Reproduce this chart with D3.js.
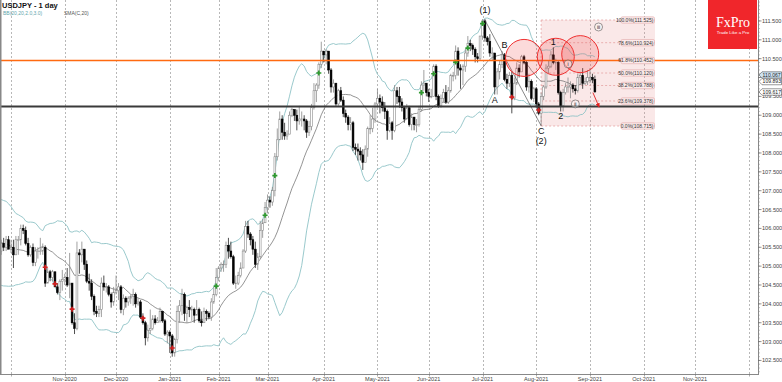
<!DOCTYPE html>
<html>
<head>
<meta charset="utf-8">
<script src="https://cdnjs.cloudflare.com/ajax/libs/d3/7.8.5/d3.min.js"></script>
<style>
body { margin: 0; background: #fff; }
svg { display: block; font-family: "Liberation Sans", Arial, sans-serif; }
</style>
</head>
<body>
<svg id="chart"></svg>
<script>
/* USDJPY daily, 27 Aug 2020 .. 3 Sep 2021 (open = previous close) */
var firstOpen = 106.25;
var closes = [
  106.55,105.35,105.90,
  // Sep 2020
  105.95,106.15,106.20,106.25,106.25,105.95,106.20,106.15,106.15,105.70,105.45,104.95,104.75,104.55,104.65,104.95,105.40,105.40,105.60,105.50,105.70,105.45,
  // Oct 2020
  105.50,105.30,105.70,105.70,106.00,105.95,105.60,105.30,105.50,105.10,105.40,105.40,105.40,105.50,104.55,104.85,104.70,104.85,104.45,104.30,104.60,104.65,
  // Nov 2020
  104.70,104.50,104.55,103.50,103.35,105.35,105.30,105.45,105.05,104.60,104.55,104.20,103.80,103.75,103.85,104.55,104.45,104.45,104.25,104.05,104.30,
  // Dec 2020
  104.35,104.45,103.85,104.15,104.05,104.15,104.20,104.25,104.00,104.05,103.65,103.50,103.10,103.30,103.35,103.60,103.50,103.55,103.80,103.55,103.20,103.25,
  // Jan 2021
  103.15,102.70,103.05,103.80,103.95,104.25,103.75,103.90,103.85,103.85,103.70,103.85,103.55,103.50,103.80,103.75,103.65,104.05,104.25,104.70,
  // Feb 2021
  104.95,105.05,105.05,105.55,105.40,105.25,104.55,104.55,104.75,104.95,105.40,106.05,105.85,105.70,105.45,105.05,105.25,105.95,106.15,106.55,
  // Mar 2021
  106.75,106.70,107.00,107.90,108.35,108.90,108.55,108.45,108.50,109.00,109.15,109.00,108.85,108.90,108.90,108.85,108.55,108.70,109.20,109.65,109.80,110.35,110.70,
  // Apr 2021
  110.60,110.70,110.20,109.75,109.85,109.30,109.65,109.40,109.05,108.95,108.75,108.80,108.15,108.10,108.05,107.95,107.75,108.10,108.65,108.65,108.90,109.30,
  // May 2021
  109.45,109.35,109.20,109.10,108.60,108.80,108.60,109.65,109.50,109.35,109.20,108.90,109.20,108.75,108.95,108.75,108.75,109.15,109.80,109.85,109.60,
  // Jun 2021
  109.50,109.50,110.30,109.50,109.25,109.45,109.60,109.35,109.65,110.05,110.05,110.70,110.25,110.20,110.30,110.65,110.90,110.85,110.75,110.55,110.50,111.10,
  // Jul 2021
  111.50,111.05,110.95,110.65,110.65,109.75,110.15,110.35,110.60,109.95,109.85,110.05,109.45,109.85,110.25,110.15,110.55,110.40,109.75,109.90,109.45,109.70,
  // Aug 2021
  109.30,109.05,109.50,109.75,110.25,110.30,110.60,110.40,110.40,109.60,109.25,109.60,109.75,109.75,109.80,109.70,109.65,110.00,110.05,109.85,109.90,110.00,
  // Sep 2021
  110.00,109.95,109.62
];
var highs = [
  106.95,106.55,106.00,
  106.05,106.25,106.55,106.50,106.35,106.35,106.25,106.30,106.20,106.20,105.75,105.45,104.95,104.90,104.75,105.10,105.50,105.50,105.70,105.75,105.80,105.80,
  105.70,105.70,105.80,105.80,106.10,106.10,106.05,105.75,105.55,105.60,105.50,105.50,105.75,105.60,105.55,104.95,104.90,104.90,104.85,104.55,104.65,104.90,
  104.80,104.95,105.35,104.55,103.75,105.65,105.45,105.65,105.45,105.15,104.80,104.65,104.25,103.95,103.95,104.70,104.75,104.55,104.50,104.30,104.45,
  104.75,104.55,104.50,104.25,104.20,104.20,104.25,104.40,104.30,104.15,104.10,103.75,103.55,103.45,103.85,103.70,103.70,103.65,103.90,103.80,103.60,103.30,
  103.30,103.20,103.10,103.95,104.10,104.40,104.30,103.95,104.10,103.95,103.90,104.10,103.90,103.80,103.90,103.85,103.80,104.15,104.45,104.95,
  105.00,105.10,105.15,105.65,105.75,105.65,105.30,104.75,104.85,105.10,105.45,106.20,106.20,105.90,105.80,105.65,105.35,106.20,106.25,106.70,
  106.90,106.85,107.10,108.00,108.65,109.10,109.00,108.80,108.60,109.10,109.20,109.15,109.15,109.25,109.10,109.00,108.90,108.85,109.30,109.85,109.85,110.40,110.95,
  110.70,110.75,110.70,110.25,109.95,109.85,109.70,109.75,109.50,109.15,109.00,108.95,108.85,108.25,108.25,108.15,108.10,108.20,108.70,109.00,109.20,109.35,
  109.70,109.55,109.50,109.35,109.15,108.95,108.85,109.80,109.75,109.75,109.45,109.25,109.30,109.25,109.05,108.95,108.90,109.25,109.90,110.20,109.85,
  109.70,109.70,110.35,110.35,109.55,109.55,109.70,109.80,109.75,110.10,110.15,110.85,110.80,110.35,110.35,110.75,111.10,111.00,110.90,110.80,110.65,111.10,
  111.55,111.55,111.10,111.15,110.80,110.60,110.25,110.45,110.70,110.65,110.10,110.15,110.15,110.00,110.40,110.35,110.60,110.60,110.45,110.10,109.95,109.75,
  109.75,109.35,109.60,109.80,110.35,110.45,110.70,110.80,110.50,110.45,109.65,109.70,109.85,110.00,109.90,109.85,109.80,110.10,110.15,110.25,110.00,110.20,
  110.25,110.10,110.05
];
var lows = [
  105.90,105.20,105.10,
  105.60,105.75,106.00,105.95,106.15,105.90,105.90,105.90,106.00,105.65,105.30,104.85,104.50,104.30,104.00,104.60,104.90,105.10,105.30,105.40,105.40,105.45,
  105.35,104.95,105.30,105.30,105.55,105.85,105.55,105.25,105.25,105.00,105.00,105.20,105.30,105.30,104.45,104.55,104.60,104.60,104.45,104.25,104.10,104.35,
  104.50,104.45,104.15,103.45,103.20,103.30,104.80,105.10,104.90,104.55,104.35,104.10,103.70,103.65,103.65,103.65,104.35,104.30,104.20,103.90,103.95,
  104.25,104.10,103.75,103.70,103.90,103.95,104.00,103.95,103.90,103.95,103.60,103.45,102.90,103.00,103.20,103.30,103.45,103.50,103.50,103.50,103.15,102.95,
  102.70,102.60,102.60,102.95,103.50,103.70,103.55,103.50,103.65,103.55,103.50,103.70,103.50,103.40,103.50,103.55,103.60,103.55,104.00,104.20,
  104.60,104.85,104.85,104.95,105.20,105.20,104.50,104.40,104.50,104.70,104.95,105.35,105.75,105.55,105.30,104.95,104.90,105.20,105.75,106.15,
  106.40,106.55,106.60,106.85,107.80,108.35,108.35,108.35,108.35,108.50,108.95,108.85,108.60,108.75,108.70,108.60,108.40,108.45,108.60,109.15,109.35,109.70,110.25,
  110.40,110.35,110.10,109.60,109.60,109.25,109.25,109.35,108.95,108.80,108.60,108.60,108.05,107.95,107.80,107.80,107.55,107.75,107.90,108.50,108.55,108.80,
  109.20,109.05,109.10,108.90,108.35,108.55,108.35,108.55,109.30,109.20,109.10,108.80,108.90,108.70,108.60,108.60,108.55,108.70,109.10,109.65,109.50,
  109.35,109.45,109.50,109.40,109.20,109.20,109.35,109.30,109.30,109.60,109.90,109.95,110.05,109.70,109.80,110.15,110.55,110.70,110.60,110.40,110.40,110.45,
  111.00,110.95,110.85,110.55,110.45,109.55,109.55,109.95,110.25,109.90,109.70,109.75,109.05,109.40,109.80,110.00,110.15,110.35,109.65,109.60,109.40,109.35,
  109.20,109.00,108.72,109.40,109.70,110.10,110.25,110.35,110.20,109.55,109.10,109.10,109.55,109.60,109.45,109.60,109.55,109.60,109.80,109.70,109.80,109.80,
  109.85,109.85,109.60
];

// signal markers [date, price]
var greenMarks = [["2021-01-29",104.47],["2021-02-26",106.35],["2021-03-04",107.40],["2021-03-30",110.12],
  ["2021-05-27",109.60],["2021-06-03",110.10],["2021-06-16",110.41],["2021-06-23",110.78],["2021-07-01",111.43]];
var redMarks = [["2020-10-21",104.97],["2020-10-27",104.53],["2020-11-05",103.86],["2020-12-16",103.62],
  ["2021-01-05",102.83],["2021-07-19",109.48],["2021-08-03",109.14]];

var monthLabels = ["Nov-2020","Dec-2020","Jan-2021","Feb-2021","Mar-2021","Apr-2021","May-2021",
  "Jun-2021","Jul-2021","Aug-2021","Sep-2021","Oct-2021","Nov-2021"];
var priceTicks = d3.range(102.5, 111.51, 0.5);

var resistance = 110.45;
var support = 109.23;
var fibHigh = 111.525, fibLow = 108.715;
var fibLevels = [1.0, 0.786, 0.618, 0.5, 0.382, 0.236, 0.0];
var fibFrom = "2021-08-04";

var circles = [["2021-07-26",110.52],["2021-08-12",110.55],["2021-08-26",110.62]];
var waveLabels = [["(1)","2021-07-02",111.79],["B","2021-07-14",110.86],["A","2021-07-08",109.40],
  ["C","2021-08-04",108.58],["(2)","2021-08-04",108.32],["1","2021-08-11",110.94],["2","2021-08-16",108.98]];
var romanLabels = [["i","2021-08-19",110.36],["ii","2021-08-24",109.30],["iii",265.5,111.34]];
var waveLine = [["2021-07-02",111.52],["2021-08-04",108.72]];
var arrow = [[263.2,109.60],[265.7,109.22]];
var priceBoxes = [[110.067,"#cfe4f2"],[109.893,"#fff"],[109.617,"#fff"]];

/* layout */
var svgWidth = 782, svgHeight = 382;
var plotR = 758, plotB = 374;

// trading days, no bar on 25 Dec and 1 Jan
var days = [];
for (var t = Date.UTC(2020, 7, 27); days.length < 345; t += 864e5) {
  var d = new Date(t), wd = d.getUTCDay(), s = d.toISOString().slice(0, 10);
  if (wd === 0 || wd === 6 || s === "2020-12-25" || s === "2021-01-01") continue;
  days.push(s);
}
function idx(v) { return typeof v === "number" ? v : days.indexOf(v); }

var x = d3.scaleLinear().domain([25, 262]).range([11, 590]);
var y = d3.scaleLinear().domain([fibLow, fibHigh]).range([126, 20]);
function px(v) { return x(idx(v)); }

var bars = closes.map(function(c, i) {
  var o = i ? closes[i - 1] : firstOpen;
  return {i: i, o: o, c: c, h: Math.max(highs[i], o, c), l: Math.min(lows[i], o, c)};
});

// bollinger 20 / 2.0 and sma 20
var bb = [];
for (var i = 19; i < closes.length; i++) {
  var win = closes.slice(i - 19, i + 1);
  var m = d3.mean(win), sd = Math.sqrt(d3.mean(win, function(v) { return (v - m) * (v - m); }));
  bb.push({i: i, m: m, u: m + 2 * sd, d: m - 2 * sd});
}

var svg = d3.select("#chart").attr("width", svgWidth).attr("height", svgHeight);
svg.append("rect").attr("width", svgWidth).attr("height", svgHeight).attr("fill", "#fff");
svg.append("clipPath").attr("id", "plot").append("rect").attr("width", plotR).attr("height", plotB);
var g = svg.append("g").attr("clip-path", "url(#plot)");

/* month grid */
var monthStarts = [];
days.forEach(function(s, i) { if (i && s.slice(5, 7) !== days[i - 1].slice(5, 7)) monthStarts.push(i); });
g.selectAll(".grid").data(monthStarts).enter().append("line")
  .attr("x1", function(d) { return Math.round(x(d)) + 0.5; }).attr("x2", function(d) { return Math.round(x(d)) + 0.5; })
  .attr("y1", 0).attr("y2", plotB)
  .attr("stroke", "#9a9a9a").attr("stroke-width", 0.7).attr("stroke-dasharray", "2,2");

/* fibonacci zone */
var fx0 = px(fibFrom), fx1 = 655;
g.append("rect").attr("x", fx0).attr("y", y(fibHigh)).attr("width", fx1 - fx0)
  .attr("height", y(fibLow) - y(fibHigh)).attr("fill", "rgba(232,140,140,0.2)");
g.selectAll(".fib").data(fibLevels).enter().append("line")
  .attr("x1", fx0).attr("x2", fx1)
  .attr("y1", function(d) { return y(fibLow + d * (fibHigh - fibLow)); })
  .attr("y2", function(d) { return y(fibLow + d * (fibHigh - fibLow)); })
  .attr("stroke", "#e29a9a").attr("stroke-width", 0.7).attr("stroke-dasharray", "2,2");
g.append("line").attr("x1", fx0).attr("x2", fx0).attr("y1", y(fibHigh)).attr("y2", y(fibLow))
  .attr("stroke", "#e29a9a").attr("stroke-width", 0.7).attr("stroke-dasharray", "2,2");

/* bands */
var lineU = d3.line().x(function(d) { return x(d.i); }).y(function(d) { return y(d.u); });
var lineD = d3.line().x(function(d) { return x(d.i); }).y(function(d) { return y(d.d); });
var lineM = d3.line().x(function(d) { return x(d.i); }).y(function(d) { return y(d.m); });
g.append("path").attr("d", lineU(bb)).attr("fill", "none").attr("stroke", "#8ec3c6").attr("stroke-width", 0.9);
g.append("path").attr("d", lineD(bb)).attr("fill", "none").attr("stroke", "#8ec3c6").attr("stroke-width", 0.9);
g.append("path").attr("d", lineM(bb)).attr("fill", "none").attr("stroke", "#666").attr("stroke-width", 0.7);

/* candles */
var cg = g.append("g");
cg.selectAll(".wick").data(bars).enter().append("line")
  .attr("x1", function(d) { return x(d.i); }).attr("x2", function(d) { return x(d.i); })
  .attr("y1", function(d) { return y(d.h); }).attr("y2", function(d) { return y(d.l); })
  .attr("stroke", function(d) { return d.c < d.o ? "#222" : "#888"; }).attr("stroke-width", 0.8);
cg.selectAll(".body").data(bars).enter().append("rect")
  .attr("x", function(d) { return x(d.i) - 0.9; }).attr("width", 1.8)
  .attr("y", function(d) { return y(Math.max(d.o, d.c)); })
  .attr("height", function(d) { return Math.max(0.6, Math.abs(y(d.o) - y(d.c))); })
  .attr("fill", function(d) { return d.c < d.o ? "#000" : "#fff"; })
  .attr("stroke", function(d) { return d.c < d.o ? "#000" : "#8a8a8a"; }).attr("stroke-width", 0.6);

/* wave line */
g.append("line").attr("x1", px(waveLine[0][0])).attr("y1", y(waveLine[0][1]))
  .attr("x2", px(waveLine[1][0])).attr("y2", y(waveLine[1][1]))
  .attr("stroke", "#555").attr("stroke-width", 0.7);

/* markers */
var cross = d3.symbol().type(d3.symbolCross).size(14);
g.selectAll(".gm").data(greenMarks).enter().append("path").attr("d", cross)
  .attr("transform", function(d) { return "translate(" + px(d[0]) + "," + y(d[1]) + ")"; }).attr("fill", "#2e9a2e");
g.selectAll(".rm").data(redMarks).enter().append("path").attr("d", cross)
  .attr("transform", function(d) { return "translate(" + px(d[0]) + "," + y(d[1]) + ")"; }).attr("fill", "#d42020");

/* horizontal levels */
g.append("line").attr("x1", 0).attr("x2", plotR).attr("y1", y(resistance)).attr("y2", y(resistance))
  .attr("stroke", "#ff6a10").attr("stroke-width", 1.5);
g.append("line").attr("x1", 0).attr("x2", plotR).attr("y1", y(support)).attr("y2", y(support))
  .attr("stroke", "#3a3a3a").attr("stroke-width", 2);

/* circles */
g.selectAll(".circ").data(circles).enter().append("circle")
  .attr("cx", function(d) { return px(d[0]); }).attr("cy", function(d) { return y(d[1]); }).attr("r", 18.5)
  .attr("fill", "rgba(240,70,70,0.2)").attr("stroke", "#f03030").attr("stroke-width", 1);

/* fib labels */
var fl = g.selectAll(".fl").data(fibLevels).enter().append("g")
  .attr("transform", function(d) { return "translate(" + fx1 + "," + y(fibLow + d * (fibHigh - fibLow)) + ")"; });
fl.append("rect").attr("x", -34).attr("y", -3.2).attr("width", 33.5).attr("height", 6.4).attr("rx", 1.5)
  .attr("fill", "#fbeaea").attr("stroke", "#dc9a9a").attr("stroke-width", 0.5);
fl.append("text").attr("x", -1.5).attr("y", 1.9).attr("text-anchor", "end").attr("font-size", 5)
  .attr("fill", "#333")
  .text(function(d) { return (d * 100).toFixed(1) + "%(" + (fibLow + d * (fibHigh - fibLow)).toFixed(3) + ")"; });

/* red arrow */
svg.append("defs").append("marker").attr("id", "ah").attr("viewBox", "0 0 6 6").attr("refX", 5).attr("refY", 3)
  .attr("markerWidth", 5).attr("markerHeight", 5).attr("orient", "auto")
  .append("path").attr("d", "M0,0L6,3L0,6Z").attr("fill", "#e02020");
g.append("line").attr("x1", x(arrow[0][0])).attr("y1", y(arrow[0][1]))
  .attr("x2", x(arrow[1][0])).attr("y2", y(arrow[1][1]))
  .attr("stroke", "#e02020").attr("stroke-width", 0.9).attr("marker-end", "url(#ah)");

/* wave labels */
g.selectAll(".wl").data(waveLabels).enter().append("text")
  .attr("x", function(d) { return px(d[1]); }).attr("y", function(d) { return y(d[2]) + 3.3; })
  .attr("text-anchor", "middle").attr("font-size", 9).attr("fill", "#111")
  .text(function(d) { return d[0]; });
var rl = g.selectAll(".rl").data(romanLabels).enter().append("g")
  .attr("transform", function(d) { return "translate(" + px(d[1]) + "," + y(d[2]) + ")"; });
rl.append("circle").attr("r", 4).attr("fill", "rgba(255,255,255,0.4)").attr("stroke", "#555").attr("stroke-width", 0.6);
rl.append("text").attr("y", 1.8).attr("text-anchor", "middle").attr("font-size", 5).attr("fill", "#222")
  .text(function(d) { return d[0]; });

/* title */
svg.append("text").attr("x", 2).attr("y", 7.5).attr("font-size", 7.5).attr("font-weight", "bold")
  .attr("fill", "#111").text("USDJPY - 1 day");
svg.append("text").attr("x", 3).attr("y", 14.5).attr("font-size", 5).attr("fill", "#5fa6ad").text("BB(20,20,2.0,3.0)");
svg.append("text").attr("x", 64).attr("y", 14.5).attr("font-size", 5).attr("fill", "#555").text("SMA(C,20)");

/* logo */
var logo = svg.append("g");
logo.append("rect").attr("x", 708).attr("y", 0).attr("width", 49).attr("height", 49).attr("fill", "#f0262b");
logo.append("text").attr("x", 733).attr("y", 27).attr("text-anchor", "middle")
  .attr("font-family", "'Liberation Serif','DejaVu Serif',serif").attr("font-size", 14).attr("fill", "#fff").text("FxPro");
logo.append("text").attr("x", 733).attr("y", 33.5).attr("text-anchor", "middle").attr("font-size", 4.4)
  .attr("fill", "#fff").text("Trade Like a Pro");

/* frame */
svg.append("line").attr("x1", 0.75).attr("x2", 0.75).attr("y1", 0).attr("y2", plotB).attr("stroke", "#888").attr("stroke-width", 1.5);
svg.append("line").attr("x1", 0).attr("x2", plotR).attr("y1", plotB + 0.5).attr("y2", plotB + 0.5).attr("stroke", "#888");
svg.append("line").attr("x1", plotR + 0.5).attr("x2", plotR + 0.5).attr("y1", 0).attr("y2", plotB + 1).attr("stroke", "#888");

/* right axis */
var minor = d3.range(102.2, 112.01, 0.1);
svg.selectAll(".mt").data(minor).enter().append("line")
  .attr("x1", plotR).attr("x2", plotR + 2).attr("y1", function(d) { return y(d); }).attr("y2", function(d) { return y(d); })
  .attr("stroke", "#888").attr("stroke-width", 0.5);
svg.selectAll(".pt").data(priceTicks).enter().append("line")
  .attr("x1", plotR).attr("x2", plotR + 3.5).attr("y1", function(d) { return y(d); }).attr("y2", function(d) { return y(d); })
  .attr("stroke", "#666").attr("stroke-width", 0.7);
// labels hidden behind the last-price boxes are left out
var shownTicks = priceTicks.filter(function(v) {
  return !priceBoxes.some(function(b) { return Math.abs(y(b[0]) - y(v)) < 3.5; });
});
svg.selectAll(".pl").data(shownTicks).enter().append("text")
  .attr("x", plotR + 4).attr("y", function(d) { return y(d) + 2; }).attr("font-size", 5.6).attr("fill", "#444")
  .text(function(d) { return d.toFixed(3); });

/* last price boxes */
var pb = svg.selectAll(".pb").data(priceBoxes).enter().append("g")
  .attr("transform", function(d) { return "translate(" + plotR + "," + y(d[0]) + ")"; });
pb.append("path").attr("d", "M1,0L4,-3.2L23.5,-3.2L23.5,3.2L4,3.2Z")
  .attr("fill", function(d) { return d[1]; }).attr("stroke", "#333").attr("stroke-width", 0.5);
pb.append("text").attr("x", 4.6).attr("y", 1.8).attr("font-size", 5.1).attr("fill", "#222")
  .text(function(d) { return d[0].toFixed(3); });

/* date axis */
svg.selectAll(".ml").data(monthLabels).enter().append("text")
  .attr("x", function(d) {
    var k = monthStarts.find(function(i) { return d3.utcFormat("%b-%Y")(new Date(days[i])) === d; });
    return x(k);
  })
  .attr("y", 380.5).attr("text-anchor", "middle").attr("font-size", 5.6).attr("fill", "#444")
  .text(function(d) { return d; });
svg.selectAll(".mk").data(monthStarts.filter(function(i) { return x(i) < plotR; })).enter().append("line")
  .attr("x1", function(d) { return Math.round(x(d)) + 0.5; }).attr("x2", function(d) { return Math.round(x(d)) + 0.5; })
  .attr("y1", plotB).attr("y2", plotB + 2.5).attr("stroke", "#777").attr("stroke-width", 0.6);
</script>
</body>
</html>
